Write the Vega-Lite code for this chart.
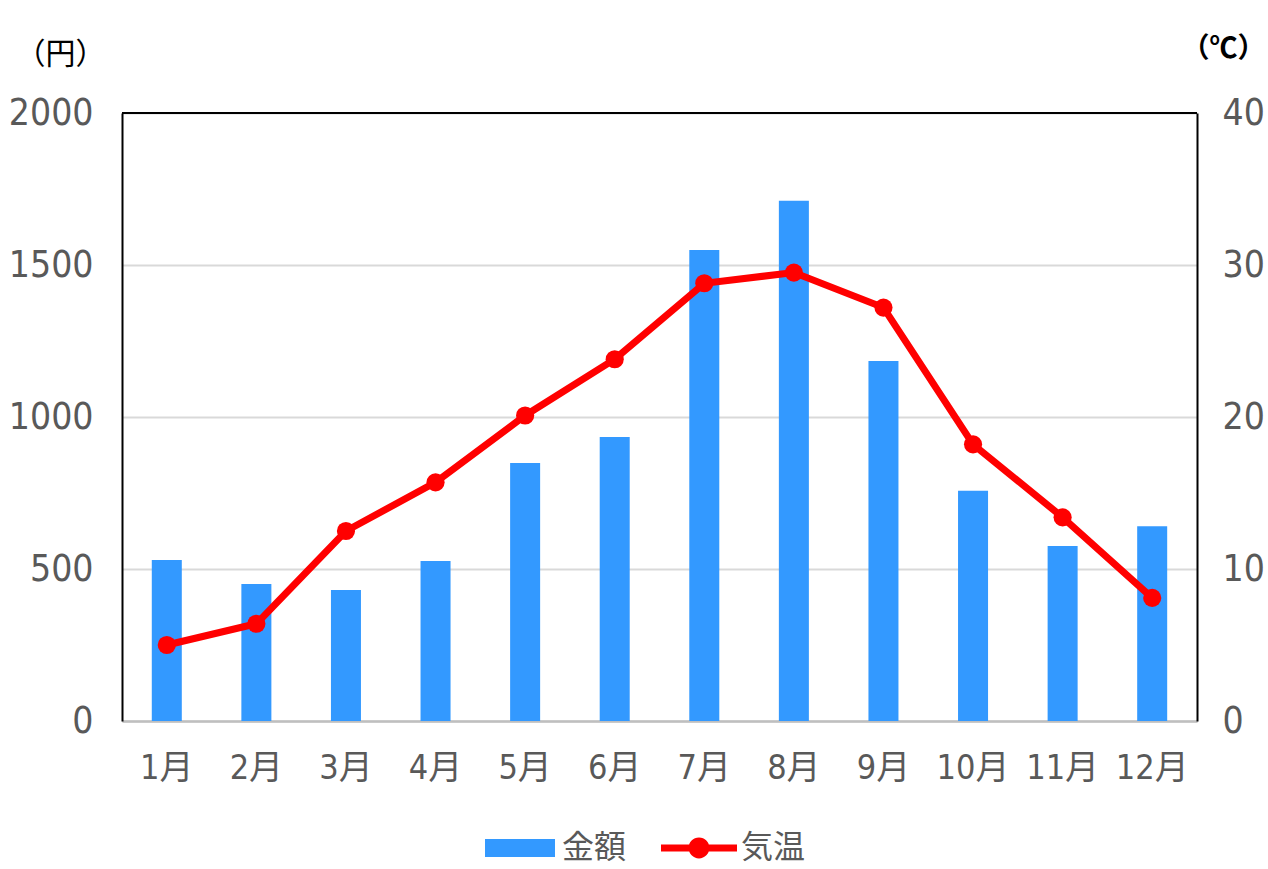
{
  "$schema": "https://vega.github.io/schema/vega-lite/v6.json",
  "width": 1075,
  "height": 608,
  "autosize": "none",
  "padding": {"left": 122, "top": 113, "right": 71, "bottom": 148},
  "background": "white",
  "config": {"view": {"stroke": null}, "font": "Noto Sans CJK JP"},
  "data": {
    "values": [
      {"month": "1月", "amount": 530, "temp": 5.0},
      {"month": "2月", "amount": 451, "temp": 6.4},
      {"month": "3月", "amount": 431, "temp": 12.5},
      {"month": "4月", "amount": 526, "temp": 15.7},
      {"month": "5月", "amount": 849, "temp": 20.1},
      {"month": "6月", "amount": 934, "temp": 23.8},
      {"month": "7月", "amount": 1549, "temp": 28.8},
      {"month": "8月", "amount": 1711, "temp": 29.5},
      {"month": "9月", "amount": 1184, "temp": 27.2},
      {"month": "10月", "amount": 757, "temp": 18.2},
      {"month": "11月", "amount": 576, "temp": 13.4},
      {"month": "12月", "amount": 641, "temp": 8.1}
    ]
  },
  "layer": [
    {
      "mark": {"type": "bar", "color": "#3399ff"},
      "encoding": {
        "x": {
          "field": "month",
          "type": "nominal",
          "sort": null,
          "scale": {"paddingInner": 0.665, "paddingOuter": 0.3325},
          "axis": {
            "title": null,
            "labelAngle": 0,
            "ticks": false,
            "domainColor": "#bfbfbf",
            "domainWidth": 2.5,
            "labelFontSize": 34,
            "labelFont": "DejaVu Sans Condensed, Noto Sans CJK JP",
            "labelColor": "#595959",
            "labelPadding": 30
          }
        },
        "y": {
          "field": "amount",
          "type": "quantitative",
          "scale": {"domain": [0, 2000]},
          "axis": {
            "orient": "left",
            "values": [0, 500, 1000, 1500, 2000],
            "format": "d",
            "grid": true,
            "gridColor": "#d9d9d9",
            "gridWidth": 2,
            "ticks": false,
            "domain": true,
            "domainColor": "black",
            "domainWidth": 2,
            "labelFont": "DejaVu Sans Condensed, Noto Sans CJK JP",
            "labelFontSize": 37,
            "labelColor": "#595959",
            "labelPadding": 29,
            "title": "（円）",
            "titleAngle": 0,
            "titleX": -62,
            "titleY": -59,
            "titleAlign": "center",
            "titleBaseline": "middle",
            "titleFont": "Noto Sans CJK JP",
            "titleFontSize": 30,
            "titleFontWeight": "normal",
            "titleColor": "black"
          }
        },
        "color": {
          "datum": "金額",
          "scale": {"domain": ["金額", "気温"], "range": ["#3399ff", "#ff0000"]},
          "legend": {
            "orient": "none",
            "legendX": 358,
            "legendY": 695,
            "direction": "horizontal",
            "title": null,
            "symbolSize": 6400,
            "labelFontSize": 32,
            "labelColor": "#595959",
            "labelFont": "Noto Sans CJK JP",
            "labelOffset": 2,
            "columnPadding": 32,
            "padding": 0,
            "symbolStrokeWidth": 0,
            "encode": {
              "symbols": {
                "update": {
                  "shape": {"signal": "datum.value === '金額' ? 'M-0.875,-0.225H0.875V0.225H-0.875Z' : 'M-0.95,-0.085H0.95V0.085H-0.95Z M-0.26,0A0.26,0.26 0 1,1 0.26,0A0.26,0.26 0 1,1 -0.26,0Z'"},
                  "fill": {"signal": "datum.value === '金額' ? '#3399ff' : '#ff0000'"},
                  "stroke": {"value": "transparent"},
                  "strokeWidth": {"value": 0}
                }
              }
            }
          }
        }
      }
    },
    {
      "mark": {
        "type": "line",
        "color": "#ff0000",
        "strokeWidth": 7,
        "point": {"filled": true, "size": 330, "color": "#ff0000"}
      },
      "encoding": {
        "x": {"field": "month", "type": "nominal", "sort": null},
        "y": {
          "field": "temp",
          "type": "quantitative",
          "scale": {"domain": [0, 40]},
          "axis": {
            "orient": "right",
            "values": [0, 10, 20, 30, 40],
            "grid": false,
            "ticks": false,
            "domain": true,
            "domainColor": "black",
            "domainWidth": 2,
            "labelFont": "DejaVu Sans Condensed, Noto Sans CJK JP",
            "labelFontSize": 37,
            "labelColor": "#595959",
            "labelPadding": 25,
            "title": "（℃）",
            "titleAngle": 0,
            "titleX": 26,
            "titleY": -64,
            "titleAlign": "center",
            "titleBaseline": "middle",
            "titleFont": "Noto Sans CJK JP",
            "titleFontSize": 28,
            "titleFontWeight": "bold",
            "titleColor": "black"
          }
        },
        "color": {"datum": "気温"}
      }
    },
    {
      "data": {"values": [{"edge": 2000}]},
      "mark": {"type": "rule", "color": "black", "strokeWidth": 2},
      "encoding": {
        "y": {"field": "edge", "type": "quantitative", "scale": {"domain": [0, 2000]}, "axis": null}
      }
    }
  ],
  "resolve": {"scale": {"y": "independent"}}
}
